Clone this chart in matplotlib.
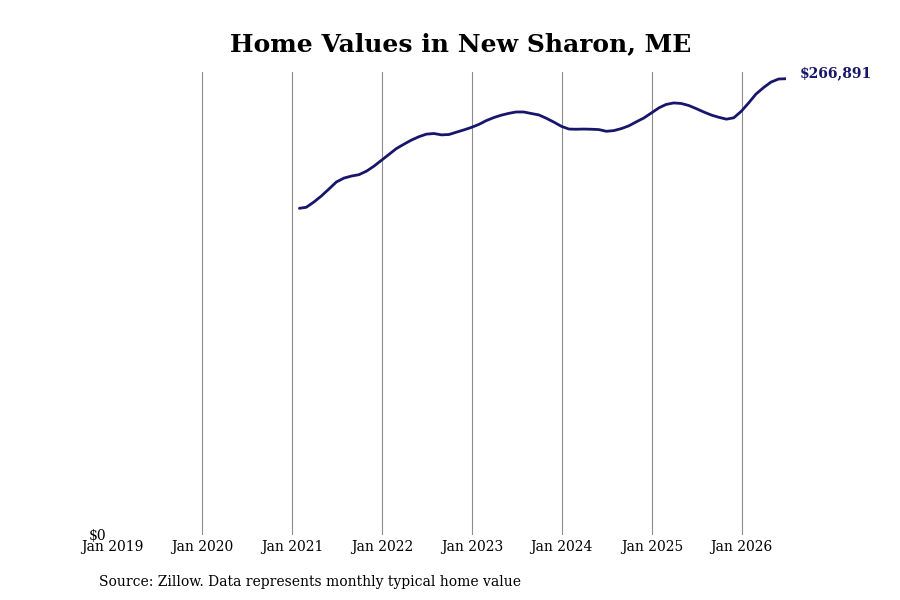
import matplotlib
matplotlib.use("Agg")
import matplotlib.pyplot as plt
import pandas as pd

plt.rcParams['font.family'] = ['DejaVu Serif']

title = "Home Values in New Sharon, ME"
source = "Source: Zillow. Data represents monthly typical home value"

dates = pd.date_range("2021-01-31", "2026-06-30", freq="ME")
values = [
    191000, 191600, 194700, 198200, 202300, 206400, 208700, 209900, 210700, 212800,
    215700, 219200, 222700, 225900, 228500, 230900, 232900, 234400, 234800, 234000,
    234200, 235600, 236900, 238400, 240200, 242300, 244100, 245500, 246600, 247400,
    247400, 246500, 245700, 243700, 241500, 239000, 237400, 237300, 237400, 237300,
    237100, 236100, 236500, 237700, 239300, 241700, 243900, 246900, 249900, 251800,
    252700, 252400, 251200, 249400, 247400, 245600, 244300, 243200, 244000, 247900,
    253000, 257900, 261700, 264900, 266700, 266891,
]
xticks = pd.to_datetime([f"{y}-01-01" for y in range(2019, 2027)])
xtick_labels = [f"Jan {y}" for y in range(2019, 2027)]

line_color = "#17166b"

fig = plt.figure(figsize=(9, 6), dpi=100)
ax = fig.add_axes([112/900, 1 - 534.5/600, (786-112)/900, (534.5-72)/600])

ax.plot(dates, values, color=line_color, lw=2.0, solid_capstyle="round")
ax.set_xlim(pd.Timestamp("2019-01-01"), pd.Timestamp("2026-06-30"))
ax.set_ylim(0, max(values) * 1.0147)

ax.set_xticks(xticks)
ax.set_xticklabels(xtick_labels, fontsize=10)
ax.set_yticks([0])
ax.set_yticklabels(["$0"], fontsize=10)
ax.tick_params(axis="both", length=0)
ax.tick_params(axis="x", pad=4)
ax.tick_params(axis="y", pad=4)

for x in xticks[1:]:
    ax.axvline(x, color="#8c8c8c", lw=0.8, zorder=0)

for s in ax.spines.values():
    s.set_visible(False)

ax.annotate(f"${values[-1]:,}", xy=(dates[-1], values[-1]), xytext=(10, 4),
            textcoords="offset points", color=line_color, fontsize=10,
            fontweight="bold", va="center", ha="left")

fig.text(461/900, 1 - 44/600, title, ha="center", va="center",
         fontsize=18, fontweight="bold")
fig.text(99/900, 1 - 582/600, source, ha="left", va="center", fontsize=10)

fig.savefig("out.png", dpi=100)
